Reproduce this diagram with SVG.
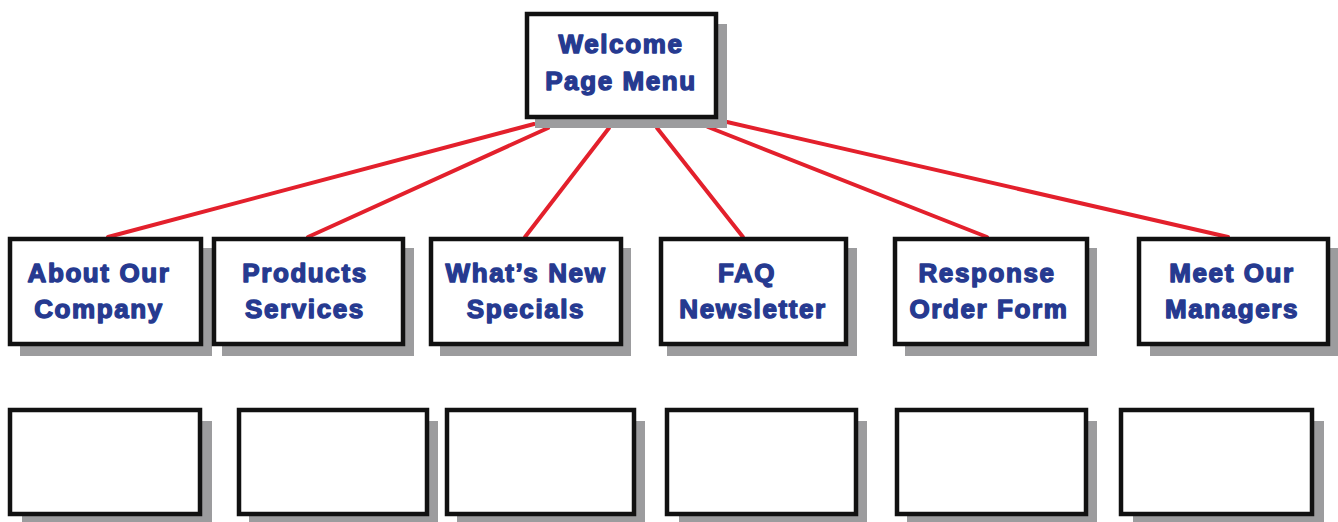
<svg xmlns="http://www.w3.org/2000/svg" width="1338" height="522" viewBox="0 0 1338 522">
  <style>
    .shadow { fill: #9c9c9e; }
    .box { fill: #ffffff; stroke: #111111; stroke-width: 4.5; }
    .label { font-family: "Liberation Sans", Arial, sans-serif; font-weight: bold; font-size: 26px; fill: #263a90; stroke: #263a90; stroke-width: 1.4; stroke-linejoin: round; letter-spacing: 1.6px; text-anchor: middle; }
    .link { stroke: #e3202c; stroke-width: 4; stroke-linecap: round; fill: none; }
  </style>
  <rect width="1338" height="522" fill="#ffffff"/>

  <!-- connectors from the menu to each section -->
  <g id="connectors">
    <line class="link" x1="534" y1="124" x2="108" y2="237"/>
    <line class="link" x1="548" y1="128" x2="308" y2="237"/>
    <line class="link" x1="609" y1="128" x2="525" y2="237"/>
    <line class="link" x1="657" y1="128" x2="743" y2="237"/>
    <line class="link" x1="708" y1="127" x2="987" y2="237"/>
    <line class="link" x1="727" y1="122" x2="1228" y2="237"/>
  </g>

  <g id="welcome">
    <rect class="shadow" x="535" y="24" width="192" height="104"/>
    <rect class="box" x="527" y="14" width="189" height="103"/>
    <text class="label" x="621" y="53">Welcome</text>
    <text class="label" x="621" y="90">Page Menu</text>
  </g>

  <g id="about">
    <rect class="shadow" x="20" y="248" width="192" height="108"/>
    <rect class="box" x="10" y="239" width="191" height="105"/>
    <text class="label" x="99" y="282">About Our</text>
    <text class="label" x="99" y="318">Company</text>
  </g>

  <g id="products">
    <rect class="shadow" x="222" y="248" width="192" height="108"/>
    <rect class="box" x="214" y="239" width="189" height="105"/>
    <text class="label" x="305" y="282">Products</text>
    <text class="label" x="305" y="318">Services</text>
  </g>

  <g id="whats-new">
    <rect class="shadow" x="440" y="248" width="191" height="108"/>
    <rect class="box" x="431" y="239" width="190" height="105"/>
    <text class="label" x="526" y="282">What’s New</text>
    <text class="label" x="526" y="318">Specials</text>
  </g>

  <g id="faq">
    <rect class="shadow" x="667" y="248" width="190" height="108"/>
    <rect class="box" x="661" y="239" width="185" height="105"/>
    <text class="label" x="747" y="282">FAQ</text>
    <text class="label" x="753" y="318">Newsletter</text>
  </g>

  <g id="response">
    <rect class="shadow" x="905" y="248" width="192" height="108"/>
    <rect class="box" x="895" y="239" width="192" height="105"/>
    <text class="label" x="987" y="282">Response</text>
    <text class="label" x="989" y="318">Order Form</text>
  </g>

  <g id="managers">
    <rect class="shadow" x="1150" y="248" width="188" height="108"/>
    <rect class="box" x="1139" y="239" width="189" height="105"/>
    <text class="label" x="1232" y="282">Meet Our</text>
    <text class="label" x="1232" y="318">Managers</text>
  </g>

  <!-- empty sub-page boxes -->
  <g id="sub-1">
    <rect class="shadow" x="22" y="421" width="190" height="101"/>
    <rect class="box" x="10" y="410" width="190" height="104"/>
  </g>
  <g id="sub-2">
    <rect class="shadow" x="249" y="421" width="189" height="101"/>
    <rect class="box" x="239" y="410" width="188" height="104"/>
  </g>
  <g id="sub-3">
    <rect class="shadow" x="457" y="421" width="188" height="101"/>
    <rect class="box" x="447" y="410" width="187" height="104"/>
  </g>
  <g id="sub-4">
    <rect class="shadow" x="679" y="421" width="188" height="101"/>
    <rect class="box" x="667" y="410" width="189" height="104"/>
  </g>
  <g id="sub-5">
    <rect class="shadow" x="907" y="421" width="190" height="101"/>
    <rect class="box" x="897" y="410" width="189" height="104"/>
  </g>
  <g id="sub-6">
    <rect class="shadow" x="1133" y="421" width="191" height="101"/>
    <rect class="box" x="1121" y="410" width="191" height="104"/>
  </g>
</svg>
